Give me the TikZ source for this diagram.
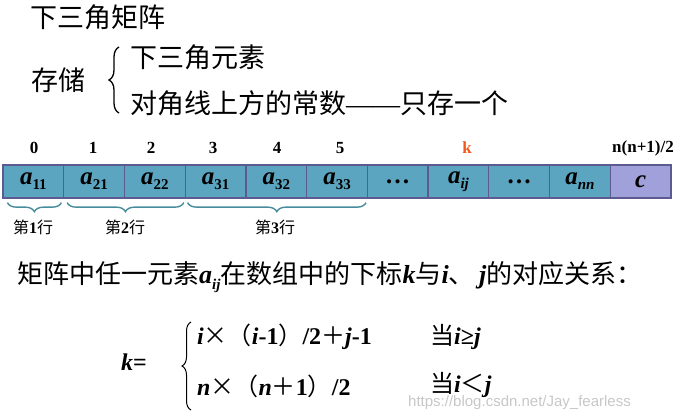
\documentclass[tikz,border=0pt]{standalone}
\usepackage{fontspec}
\setmainfont{Liberation Serif}
\newfontfamily\cjk{Noto Sans CJK SC}
\newfontfamily\wmfont{Liberation Sans}
\usetikzlibrary{decorations.pathreplacing,calc}
\definecolor{cellfill}{HTML}{5BA5C0}
\definecolor{cellline}{HTML}{5C5A8E}
\definecolor{lastfill}{HTML}{A0A0DA}
\definecolor{bracecol}{HTML}{468C9C}
\definecolor{korange}{HTML}{F05A1E}
\newcommand\ael[1]{\textbf{\textit{a}}\raisebox{-0.45ex}{\fontsize{15}{15}\selectfont\bfseries #1}}
\newcommand\bi[1]{\textbf{\textit{#1}}}
\begin{document}
\begin{tikzpicture}[x=1pt,y=-1pt,
  cell/.style={draw=cellline, line width=1.3pt, fill=cellfill, minimum width=60.73pt,
    minimum height=33pt, inner sep=0pt, font=\fontsize{25}{25}\selectfont},
  idx/.style={font=\fontsize{17}{17}\selectfont\bfseries, inner sep=0pt},
  cjkt/.style={font=\fontsize{27}{27}\selectfont\cjk, inner sep=0pt, anchor=west},
  rowlab/.style={font=\fontsize{16}{16}\selectfont\cjk, inner sep=0pt},
  ubrace/.style={decorate, decoration={brace, amplitude=9pt, mirror}, draw=bracecol, line width=1.4pt},
  lbrace/.style={decorate, decoration={brace, amplitude=#1}, draw=black, line width=1.3pt},
  frm/.style={font=\fontsize{24}{24}\selectfont, inner sep=0pt, anchor=west}]
\useasboundingbox (0,0) rectangle (677,418);

\node[cjkt] (title) at (30,17) {下三角矩阵};
\node[cjkt] (store) at (31,80) {存储};
\coordinate (bt) at (119,47);
\coordinate (bb) at (119,113);
\draw[lbrace=10pt] (bb) -- (bt);
\node[cjkt] (opt1) at (130,57) {下三角元素};
\node[cjkt] (opt2) at (130,103) {对角线上方的常数{\fontspec{Liberation Serif}——}只存一个};

% cells
\node[cell] (c0) at (33.4,181.5) {\ael{11}};
\node[cell] (c1) at (94.1,181.5) {\ael{21}};
\node[cell] (c2) at (154.8,181.5) {\ael{22}};
\node[cell] (c3) at (215.6,181.5) {\ael{31}};
\node[cell] (c4) at (276.3,181.5) {\ael{32}};
\node[cell] (c5) at (337.0,181.5) {\ael{33}};
\node[cell] (c6) at (397.7,181.5) {\textbf{\raisebox{-0.3ex}{…}}};
\node[cell] (c7) at (458.5,181.5) {\ael{\textit{ij}}};
\node[cell] (c8) at (519.2,181.5) {\textbf{\raisebox{-0.3ex}{…}}};
\node[cell] (c9) at (579.9,181.5) {\ael{\textit{nn}}};
\node[cell, fill=lastfill] (c10) at (640.6,181.5) {\bi{c}};

% indices
\node[idx] (i0) at (34,148) {0};
\node[idx] (i1) at (93,148) {1};
\node[idx] (i2) at (151,148) {2};
\node[idx] (i3) at (213,148) {3};
\node[idx] (i4) at (277,148) {4};
\node[idx] (i5) at (340,148) {5};
\node[idx, text=korange] (ik) at (467,148) {k};
\node[idx] (inn) at (643,148) {n(n+1)/2};

% row braces
\draw[ubrace] ($(c0.south west)+(5,4)$) -- ($(c0.south east)+(-3,4)$);
\draw[ubrace] ($(c1.south west)+(4,4)$) -- ($(c2.south east)+(-2,4)$);
\draw[ubrace] ($(c3.south west)+(3,4)$) -- ($(c5.south east)+(-2,4)$);
\node[rowlab] (r1) at (33,227) {第\textbf{\fontspec{Liberation Serif}1}行};
\node[rowlab] (r2) at (125,227) {第\textbf{\fontspec{Liberation Serif}2}行};
\node[rowlab] (r3) at (275,227) {第\textbf{\fontspec{Liberation Serif}3}行};

% relation sentence
\node[inner sep=0pt, anchor=west, font=\fontsize{26}{26}\selectfont] (rel) at (17,277)
 {{\cjk 矩阵中任一元素}\bi{a}\raisebox{-0.5ex}{\fontsize{15}{15}\selectfont\bi{ij}}{\cjk 在数组中的下标}\bi{k}{\cjk 与}\bi{i}{\cjk 、}\,\bi{j}{\cjk 的对应关系：}};

% formula
\node[inner sep=0pt, font=\fontsize{24}{24}\selectfont] (keq) at (134,362) {\bi{k}\textbf{=}};
\coordinate (ft) at (191,322);
\coordinate (fb) at (191,410);
\draw[lbrace=9pt, line width=1pt] (fb) -- (ft);
\node[frm] (f1) at (197,337) {\bi{i}{\cjk ×（}\bi{i}\textbf{-1}{\cjk ）}\textbf{/2}{\cjk ＋}\bi{j}\textbf{-1}};
\node[frm] (f2) at (197,386) {\bi{n}{\cjk ×（}\bi{n}{\cjk ＋}\textbf{1}{\cjk ）}\textbf{/2}};
\node[frm] (g1) at (430,337) {{\cjk 当}\bi{i}\textbf{≥}\bi{j}};
\node[frm] (g2) at (430,385) {{\cjk 当}\bi{i}{\cjk ＜}\bi{j}};

\node[inner sep=0pt, anchor=west, text=black!22, font=\fontsize{15}{15}\selectfont\wmfont] (wm) at (408,403) {https://blog.csdn.net/Jay\_fearless};
\end{tikzpicture}
\end{document}
